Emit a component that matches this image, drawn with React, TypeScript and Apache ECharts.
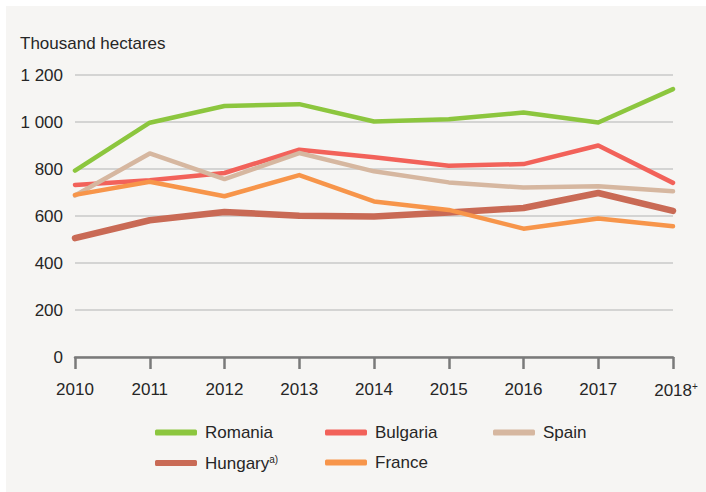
import React, { useEffect, useRef } from "react";
import * as echarts from "echarts";

const years = ["2010", "2011", "2012", "2013", "2014", "2015", "2016", "2017", "2018"];
const romania = [793, 997, 1068, 1076, 1002, 1012, 1040, 998, 1140];
const bulgaria = [732, 752, 783, 882, 850, 814, 821, 900, 741];
const spain = [687, 866, 757, 868, 790, 743, 721, 727, 705];
const hungary = [506, 582, 617, 601, 598, 615, 634, 698, 622];
const france = [690, 746, 684, 774, 662, 626, 546, 589, 556];
const yTicks = { min: 0, max: 1200, interval: 200 };

const FONT = "Liberation Sans, Arial, sans-serif";
const TXT = "#262626";

const seriesDefs = [
  { name: "Romania", data: romania, color: "#8cc63e", width: 4.5 },
  { name: "Bulgaria", data: bulgaria, color: "#f2625a", width: 4.5 },
  { name: "Spain", data: spain, color: "#d6b7a0", width: 4.5 },
  { name: "Hungary", data: hungary, color: "#c96a55", width: 6.5 },
  { name: "France", data: france, color: "#f7954a", width: 4.5 },
];

const legendPos: Record<string, [number, number]> = {
  Romania: [155, 424],
  Bulgaria: [325, 424],
  Spain: [493, 424],
  Hungary: [155, 454],
  France: [325, 454],
};

export default function App() {
  const ref = useRef<HTMLDivElement>(null);
  useEffect(() => {
    const chart = echarts.init(ref.current!, null, { renderer: "svg" });
    const fmt = (v: number) => String(v).replace(/\B(?=(\d{3})+(?!\d))/g, " ");
    chart.setOption({
      animation: false,
      backgroundColor: "transparent",
      textStyle: { fontFamily: FONT },
      title: {
        text: "Thousand hectares",
        left: 15,
        top: 30,
        textStyle: { fontFamily: FONT, fontSize: 17, fontWeight: "normal", color: TXT },
      },
      grid: { left: 75, right: 33, top: 75, bottom: 135, containLabel: false },
      xAxis: {
        type: "category",
        data: years,
        boundaryGap: false,
        axisLine: { lineStyle: { color: "#7a7a7a", width: 2.5 } },
        axisTick: { show: true, interval: 0, length: 12, lineStyle: { color: "#7a7a7a", width: 2.5 } },
        axisLabel: {
          interval: 0,
          margin: 24,
          fontSize: 17,
          color: TXT,
          fontFamily: FONT,
          formatter: (v: string) => (v === "2018" ? "{pad|}2018{sup|+}" : v),
          rich: {
            pad: { width: 6 },
            sup: { fontSize: 10, verticalAlign: "top", color: TXT, fontFamily: FONT, padding: [0, 0, 8, 0] },
          },
        },
      },
      yAxis: {
        type: "value",
        min: yTicks.min,
        max: yTicks.max,
        interval: yTicks.interval,
        axisLine: { show: false },
        axisTick: { show: false },
        axisLabel: { margin: 12, fontSize: 17, color: TXT, fontFamily: FONT, formatter: fmt },
        splitLine: { lineStyle: { color: "#c8c8c8", width: 1.5 } },
      },
      legend: seriesDefs.map((s) => ({
        data: [s.name],
        left: legendPos[s.name][0],
        top: legendPos[s.name][1],
        padding: 0,
        icon: "roundRect",
        itemWidth: 42,
        itemHeight: 6,
        selectedMode: false,
        formatter: (n: string) => (n === "Hungary" ? "{n|Hungary}{s|a)}" : "{n|" + n + "}"),
        textStyle: {
          color: TXT,
          fontFamily: FONT,
          fontSize: 17,
          rich: {
            n: { fontSize: 17, color: TXT, fontFamily: FONT, padding: [0, 0, 0, 3] },
            s: { fontSize: 10, color: TXT, fontFamily: FONT, padding: [0, 0, 8, 0] },
          },
        },
      })),
      series: seriesDefs.map((s) => ({
        type: "line",
        name: s.name,
        data: s.data,
        showSymbol: false,
        symbol: "none",
        color: s.color,
        itemStyle: { color: s.color },
        lineStyle: { color: s.color, width: s.width, cap: "round", join: "round" },
      })),
    });
    return () => chart.dispose();
  }, []);
  return (
    <div
      ref={ref}
      style={{
        position: "fixed",
        left: 0,
        top: 0,
        width: 706,
        height: 492,
        background: "linear-gradient(#f6f5f3,#f6f5f3) 6px 6px / 700px 486px no-repeat, #ffffff",
      }}
    />
  );
}
